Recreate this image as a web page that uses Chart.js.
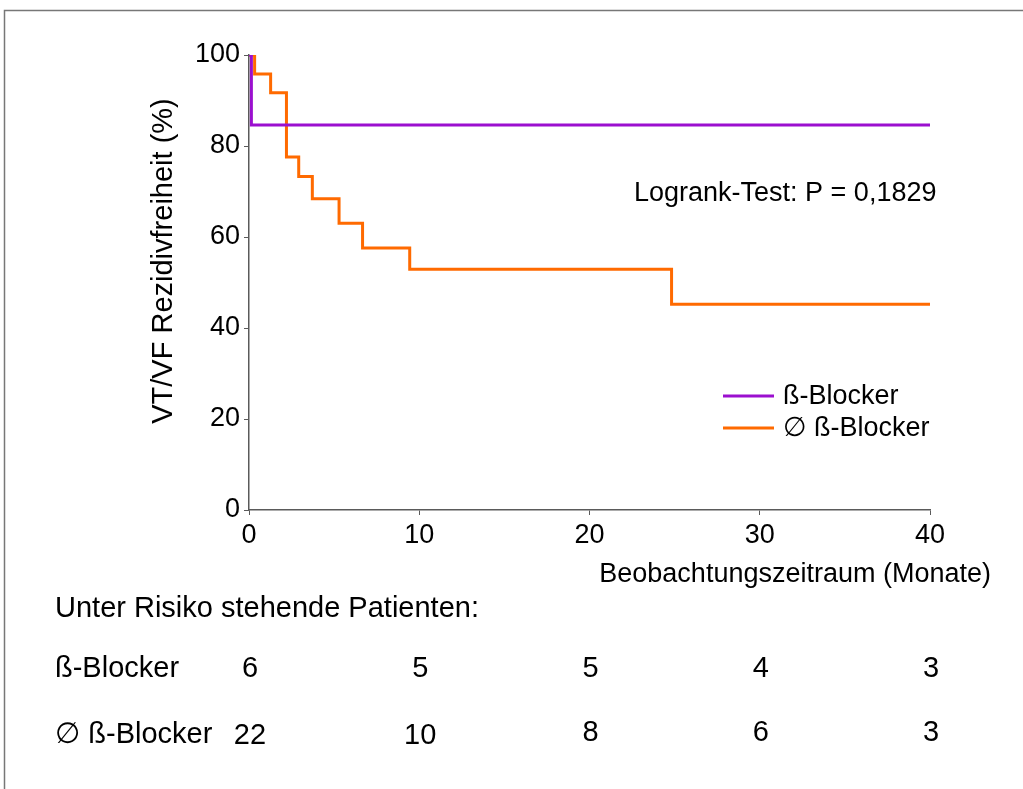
<!DOCTYPE html>
<html>
<head>
<meta charset="utf-8">
<script src="https://cdn.jsdelivr.net/npm/chart.js@4"></script>
<style>
  html, body { margin: 0; padding: 0; background: #fff; }
  #wrap { width: 1023px; height: 789px; }
</style>
</head>
<body>
<div id="wrap"><canvas id="km" width="1023" height="789"></canvas></div>
<script>
// Kaplan-Meier data
var timeTicks = [0, 10, 20, 30, 40];
var betaLabel = 'ß-Blocker';
var noBetaLabel = '\u2205 ß-Blocker';
var betaTimes = [0, 0.14, 40];
var betaSurv = [100, 84.6, 84.6];
var noBetaTimes = [0, 0.33, 1.27, 2.2, 2.92, 3.72, 5.29, 6.67, 9.44, 24.82, 40];
var noBetaSurv = [100, 95.8, 91.7, 77.6, 73.3, 68.4, 63.0, 57.6, 52.9, 45.2, 45.2];
var atRiskBeta = [6, 5, 5, 4, 3];
var atRiskNoBeta = [22, 10, 8, 6, 3];
var logrankText = 'Logrank-Test: P = 0,1829';
var xTitle = 'Beobachtungszeitraum (Monate)';
var yTitle = 'VT/VF Rezidivfreiheit (%)';
var riskTitle = 'Unter Risiko stehende Patienten:';

var FONT = '"Liberation Sans", Arial, "DejaVu Sans", sans-serif';
var PURPLE = '#9b0fcf';
var ORANGE = '#ff6a00';
var AXIS = '#5a5a5a';

function toPoints(xs, ys) {
    var pts = [];
    for (var i = 0; i < xs.length; i++) {
        pts.push({ x: xs[i], y: ys[i] });
    }
    return pts;
}

// frame, titles, legend, logrank note and the at-risk table
var extras = {
    id: 'extras',
    beforeDraw: function(chart) {
        var ctx = chart.ctx;
        ctx.save();
        ctx.fillStyle = '#fff';
        ctx.fillRect(0, 0, chart.width, chart.height);
        ctx.strokeStyle = '#777';
        ctx.lineWidth = 1.5;
        ctx.beginPath();
        ctx.moveTo(4.5, 789);
        ctx.lineTo(4.5, 10.5);
        ctx.lineTo(1023, 10.5);
        ctx.stroke();
        ctx.restore();
    },
    afterDraw: function(chart) {
        var ctx = chart.ctx;
        var xs = chart.scales.x;
        ctx.save();
        ctx.fillStyle = '#000';
        ctx.textBaseline = 'middle';

        // y title
        ctx.save();
        ctx.translate(164, 261);
        ctx.rotate(-Math.PI / 2);
        ctx.textAlign = 'center';
        ctx.font = '29px ' + FONT;
        ctx.fillText(yTitle, 0, 0);
        ctx.restore();

        // x title
        ctx.textAlign = 'right';
        ctx.font = '27px ' + FONT;
        ctx.fillText(xTitle, 991, 575);

        // logrank
        ctx.textAlign = 'left';
        ctx.font = '27px ' + FONT;
        ctx.fillText(logrankText, 634, 194);

        // legend
        var leg = [[betaLabel, PURPLE, 396], [noBetaLabel, ORANGE, 428]];
        leg.forEach(function(l) {
            ctx.strokeStyle = l[1];
            ctx.lineWidth = 3;
            ctx.beginPath();
            ctx.moveTo(723, l[2]);
            ctx.lineTo(774, l[2]);
            ctx.stroke();
            ctx.fillText(l[0], 783, l[2] + 1);
        });

        // at-risk table
        ctx.font = '29px ' + FONT;
        ctx.fillText(riskTitle, 55, 609);
        ctx.fillText(betaLabel, 55, 669);
        ctx.fillText(noBetaLabel, 55, 735);
        ctx.textAlign = 'center';
        for (var i = 0; i < timeTicks.length; i++) {
            var px = xs.getPixelForValue(timeTicks[i]);
            ctx.fillText(String(atRiskBeta[i]), px + 1, 669);
            ctx.fillText(String(atRiskNoBeta[i]), px + 1, i < 2 ? 736 : 733);
        }
        ctx.restore();
    }
};

var chart = new Chart(document.getElementById('km').getContext('2d'), {
    type: 'line',
    data: {
        datasets: [
            {
                label: betaLabel,
                data: toPoints(betaTimes, betaSurv),
                borderColor: PURPLE,
                borderWidth: 3,
                stepped: true,
                pointRadius: 0,
                fill: false
            },
            {
                label: noBetaLabel,
                data: toPoints(noBetaTimes, noBetaSurv),
                borderColor: ORANGE,
                borderWidth: 3,
                stepped: true,
                pointRadius: 0,
                fill: false
            }
        ]
    },
    options: {
        responsive: false,
        animation: false,
        devicePixelRatio: 1,
        layout: { padding: { left: 0, right: 93, top: 55, bottom: 0 } },
        plugins: {
            legend: { display: false },
            tooltip: { enabled: false }
        },
        scales: {
            x: {
                type: 'linear',
                min: 0,
                max: 40,
                afterFit: function(s) { s.height = 279; s.paddingLeft = 0; s.paddingRight = 0; },
                ticks: {
                    stepSize: 10,
                    color: '#000',
                    padding: 4,
                    maxRotation: 0,
                    font: { family: FONT, size: 27 }
                },
                grid: { drawOnChartArea: false, drawTicks: true, tickLength: 5, color: AXIS },
                border: { display: true, color: AXIS, width: 1.5 }
            },
            y: {
                type: 'linear',
                min: 0,
                max: 100,
                afterFit: function(s) { s.width = 249; s.paddingTop = 0; s.paddingBottom = 0; },
                ticks: {
                    stepSize: 20,
                    color: '#000',
                    padding: 4,
                    font: { family: FONT, size: 27 }
                },
                grid: { drawOnChartArea: false, drawTicks: true, tickLength: 5, color: AXIS },
                border: { display: true, color: AXIS, width: 1.5 }
            }
        }
    },
    plugins: [extras]
});
</script>
</body>
</html>
